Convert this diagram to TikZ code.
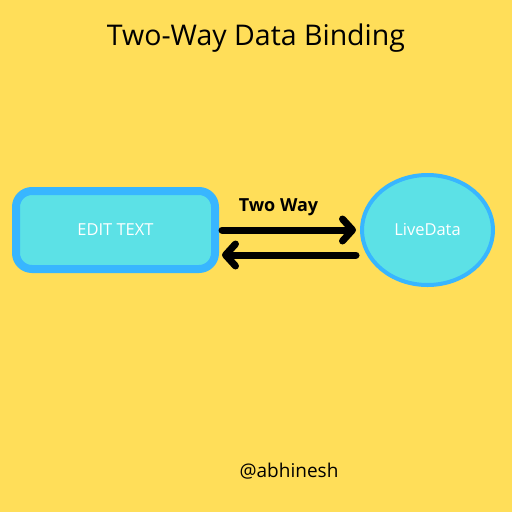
\documentclass[tikz,border=0pt]{standalone}
\usepackage{fontspec}
\setmainfont{Open Sans}
\usetikzlibrary{arrows.meta,shapes.geometric}
\definecolor{bg}{HTML}{FFDE59}
\definecolor{cyanfill}{HTML}{5CE1E6}
\definecolor{blueedge}{HTML}{38B6FF}
\tikzset{
  boxnode/.style={draw=blueedge, fill=cyanfill, line width=8pt, rounded corners=16pt,
    minimum width=199pt, minimum height=78pt, text=white, font=\fontsize{16.5}{20}\selectfont},
  ellnode/.style={ellipse, draw=blueedge, fill=cyanfill, line width=4pt,
    minimum width=131pt, minimum height=110pt, text=white, font=\fontsize{16.5}{20}\selectfont},
  flow/.style={line width=7pt, line cap=round,
    -{Straight Barb[length=10pt, width=22pt, line cap=round, line join=round]}},
}
\begin{document}
\begin{tikzpicture}[x=1pt, y=-1pt]
  \fill[bg] (0,0) rectangle (512,512);
  \useasboundingbox (0,0) rectangle (512,512);
  \node[font=\fontsize{28.5}{34}\selectfont] (title) at (256,38) {Two-Way Data Binding};
  \node[boxnode] (edit) at (115.5,230) {EDIT TEXT};
  \node[ellnode] (live) at (427.5,230) {LiveData};
  \coordinate (a1) at (222,230);
  \coordinate (a2) at (356,230);
  \coordinate (b1) at (356,255);
  \coordinate (b2) at (222,255);
  \draw[flow] (a1) -- (a2);
  \draw[flow] (b1) -- (b2);
  \node[font=\bfseries\fontsize{18}{22}\selectfont] (lbl) at (278.5,207) {Two Way};
  \node[font=\fontsize{19}{23}\selectfont] (sig) at (289,471) {@abhinesh};
\end{tikzpicture}
\end{document}
